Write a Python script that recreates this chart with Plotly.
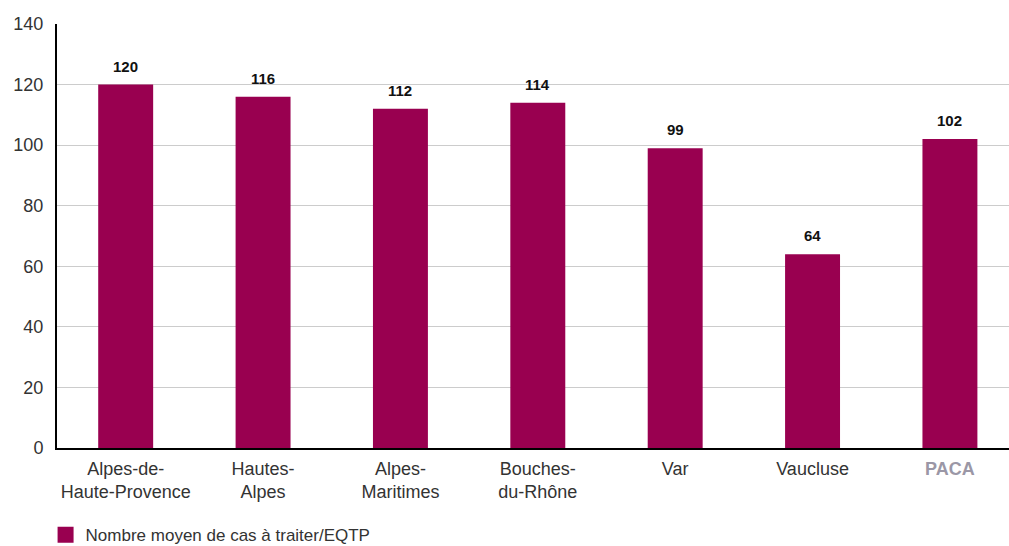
import plotly.graph_objects as go

categories = ["Alpes-de-<br>Haute-Provence", "Hautes-<br>Alpes", "Alpes-<br>Maritimes",
              "Bouches-<br>du-Rhône", "Var", "Vaucluse",
              "<b><span style='color:#9b97a6'>PACA</span></b>"]
values = [120, 116, 112, 114, 99, 64, 102]
series_name = "Nombre moyen de cas à traiter/EQTP"
y_ticks = [0, 20, 40, 60, 80, 100, 120, 140]

BAR_COLOR = "#990050"
FONT = "Liberation Sans, Arial, sans-serif"

xs = list(range(len(values)))
fig = go.Figure()
fig.add_trace(go.Bar(
    x=xs, y=values, name=series_name, width=0.4, showlegend=False,
    marker=dict(color=BAR_COLOR, line=dict(width=0)),
))
# legend entry with a larger square swatch
fig.add_trace(go.Scatter(
    x=[None], y=[None], mode="markers", name=series_name, showlegend=True,
    marker=dict(symbol="square", size=18, color=BAR_COLOR),
))
for x, v in zip(xs, values):
    fig.add_annotation(x=x, y=v, text=f"<b>{v}</b>", showarrow=False,
                       yanchor="bottom", yshift=8,
                       font=dict(size=15, color="#111111", family=FONT))

fig.update_layout(
    width=1009, height=546,
    margin=dict(l=57, r=0, t=24, b=98),
    plot_bgcolor="white", paper_bgcolor="white",
    font=dict(family=FONT, size=18, color="#333333"),
    showlegend=True,
    legend=dict(orientation="h", x=-0.012, xanchor="left",
                yref="container", y=0.02, yanchor="middle",
                font=dict(size=17, color="#333333"), itemwidth=30,
                bgcolor="rgba(0,0,0,0)"),
)
fig.update_xaxes(tickvals=xs, ticktext=categories, range=[-0.5, 6.43],
                 showline=True, linecolor="#000000", linewidth=2, ticks="",
                 showgrid=False, zeroline=False, tickfont=dict(size=18),
                 ticklabelstandoff=3, automargin=False)
fig.update_yaxes(range=[0, 140], tickvals=y_ticks, showline=True, linecolor="#000000",
                 linewidth=2, showgrid=True, gridcolor="#cccccc", gridwidth=1,
                 zeroline=False, ticks="", ticklabelstandoff=8,
                 tickfont=dict(size=18), automargin=False)
fig.write_html("out.html")
